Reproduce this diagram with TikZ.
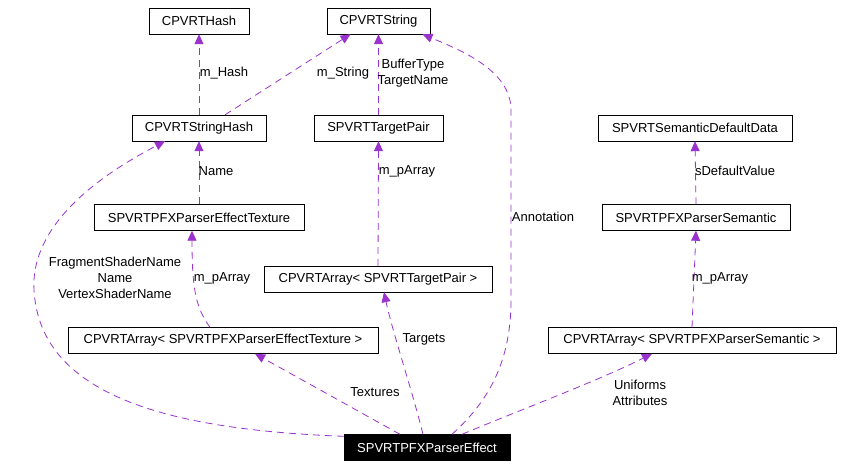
\documentclass[tikz,border=0pt]{standalone}
\usepackage{fontspec}
\setmainfont{Liberation Sans}
\usepackage{xcolor}
\usetikzlibrary{arrows.meta,positioning}
\definecolor{depcolor}{HTML}{9A32CD}

\begin{document}
\begin{tikzpicture}[x=1pt, y=-1pt, every node/.style={font=\fontsize{13}{16}\selectfont}, cls/.style={draw,minimum height=26pt,inner sep=0pt}, dep/.style={-{Triangle[length=10pt,width=9pt]},depcolor,line width=0.8pt,dash pattern=on 7pt off 5pt}, lbl/.style={align=center,inner sep=0pt}]
\useasboundingbox (0,0) rectangle (843,467);
\node[cls,minimum width=100pt] (hash) at (199,21) {CPVRTHash};
\node[cls,minimum width=103pt] (str) at (378.5,21) {CPVRTString};
\node[cls,minimum width=134pt] (strhash) at (199,128) {CPVRTStringHash};
\node[cls,minimum width=129pt] (tpair) at (378.5,128) {SPVRTTargetPair};
\node[cls,minimum width=194pt] (semdef) at (695,128) {SPVRTSemanticDefaultData};
\node[cls,minimum width=210pt] (efftex) at (199,217.5) {SPVRTPFXParserEffectTexture};
\node[cls,minimum width=188pt] (sem) at (696,217.5) {SPVRTPFXParserSemantic};
\node[cls,minimum width=228pt] (tparr) at (378,279) {CPVRTArray< SPVRTTargetPair >};
\node[cls,minimum width=310pt] (texarr) at (223,340.5) {CPVRTArray< SPVRTPFXParserEffectTexture >};
\node[cls,minimum width=288pt] (semarr) at (692,340.5) {CPVRTArray< SPVRTPFXParserSemantic >};
\node[cls,minimum width=166pt,fill=black,text=white] (eff) at (427,447.5) {SPVRTPFXParserEffect};
\foreach \x/\y in {strhash/hash,tpair/str,efftex/strhash,tparr/tpair,sem/semdef,semarr/sem}{\draw[dep] (\x.north)--(\y.south);}
\draw[dep] ([xshift=26pt]strhash.north)--([xshift=-28pt]str.south);
\draw[dep] ([xshift=-13pt]texarr.north) .. controls (196,308) and (192,290) .. ([xshift=-7pt]efftex.south);
\draw[dep] ([yshift=-2pt]eff.north west) .. controls (180,430) and (40,400) .. (34,290) .. controls (30,220) and (110,170) .. ([xshift=-34pt]strhash.south);
\draw[dep] ([xshift=-27pt]eff.north)--([xshift=32pt]texarr.south);
\draw[dep] ([xshift=-4pt]eff.north) .. controls (412,390) and (392,330) .. ([xshift=6pt]tparr.south);
\draw[dep] ([xshift=25pt]eff.north) .. controls (490,400) and (511,360) .. (511,300) -- (511,110) .. controls (511,70) and (460,50) .. ([xshift=44pt]str.south);
\draw[dep] ([xshift=35pt]eff.north) .. controls (520,410) and (600,380) .. ([xshift=-40pt]semarr.south);
\node[lbl] (lhash) at (224,73) {m\_Hash};
\node[lbl] (lstr) at (343,73) {m\_String};
\node[lbl] (lbuf) at (413,73) {BufferType\\TargetName};
\node[lbl] (lname) at (216,171) {Name};
\node[lbl] (ltp) at (407,171) {m\_pArray};
\node[lbl] (ldef) at (735,171) {sDefaultValue};
\node[lbl] (lann) at (543,217) {Annotation};
\node[lbl] (lfrag) at (115,278) {FragmentShaderName\\Name\\VertexShaderName};
\node[lbl] (ltex) at (222,278) {m\_pArray};
\node[lbl] (lsem) at (720,278) {m\_pArray};
\node[lbl] (ltgt) at (424,339) {Targets};
\node[lbl] (ltexs) at (375,392) {Textures};
\node[lbl] (luni) at (640,393) {Uniforms\\Attributes};
\end{tikzpicture}
\end{document}
